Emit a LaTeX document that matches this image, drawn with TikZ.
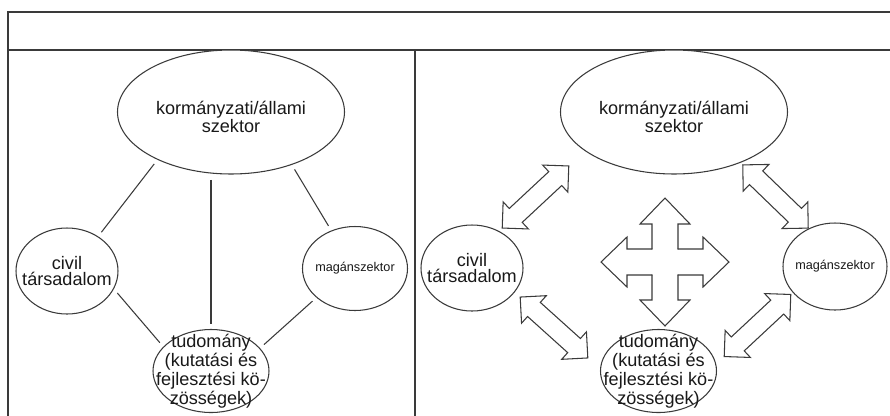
\documentclass[tikz,border=0pt]{standalone}
\usepackage{fontspec}
\setmainfont{Liberation Sans}
\usetikzlibrary{shapes.geometric}
\definecolor{ink}{HTML}{3A3A3A}
\tikzset{
    frame/.style={draw=ink, line width=0.7pt},
    sector/.style={ellipse, draw=ink, line width=0.6pt, fill=white, inner sep=0pt},
    bigsector/.style={sector, minimum width=4.54cm, minimum height=2.48cm},
    sidesector/.style={sector, minimum width=2.04cm, minimum height=1.72cm},
    scisector/.style={sector, minimum width=2.32cm, minimum height=1.66cm},
    lbl/.style={align=center, inner sep=0pt, text=black!90, font=\fontsize{10.3}{8}\selectfont},
    link/.style={draw=ink, line width=0.6pt, shorten <=3pt, shorten >=3pt},
    outline/.style={draw=ink, line width=0.6pt, fill=white, line join=miter},
    flow/.pic={
        \draw[outline] (-0.91,0) -- (-0.54,0.37) -- (-0.54,0.19) -- (0.54,0.19) -- (0.54,0.37)
            -- (0.91,0) -- (0.54,-0.37) -- (0.54,-0.19) -- (-0.54,-0.19) -- (-0.54,-0.37) -- cycle;
    },
}

\begin{document}
\begin{tikzpicture}
\clip (0,0) rectangle (17.8,-8.3);
\fill[white] (0,0) rectangle (17.8,-8.3);

% table frame
\draw[frame] (0.16,-8.5) -- (0.16,-0.24) -- (18,-0.24);
\draw[frame] (0.16,-1.0) -- (18,-1.0);
\draw[frame] (8.3,-1.0) -- (8.3,-8.5);

% left panel
\node[bigsector, label={[lbl, yshift=-0.1cm]center:kormányzati/állami\\szektor}] (gov1) at (4.62,-2.24) {};
\node[sidesector, label={[lbl, font=\fontsize{10.3}{9.6}\selectfont]center:civil\\társadalom}] (civ1) at (1.34,-5.42) {};
\node[sidesector, minimum width=2.1cm, minimum height=1.68cm, label={[lbl, font=\fontsize{7.2}{8}\selectfont]center:magánszektor}] (mag1) at (7.10,-5.37) {};
\node[scisector, label={[lbl]center:tudomány\\(kutatási és\\fejlesztési kö-\\zösségek)}] (tud1) at (4.22,-7.42) {};

\draw[link] (gov1.213) -- (civ1.48);
\draw[link] (gov1.319) -- (mag1.122);
\draw[link] (tud1.north |- gov1.south) -- (tud1.north);
\draw[link] (civ1.339) -- (tud1.153);
\draw[link] (mag1.217) -- (tud1.25);

% right panel
\node[bigsector, label={[lbl, yshift=-0.1cm]center:kormányzati/állami\\szektor}] (gov2) at (13.48,-2.24) {};
\node[sidesector, label={[lbl, font=\fontsize{10.3}{9.6}\selectfont]center:civil\\társadalom}] (civ2) at (9.44,-5.36) {};
\node[sidesector, minimum width=2.08cm, minimum height=1.74cm, label={[lbl, font=\fontsize{7.2}{8}\selectfont]center:magánszektor}] (mag2) at (16.70,-5.33) {};
\node[scisector, label={[lbl]center:tudomány\\(kutatási és\\fejlesztési kö-\\zösségek)}] (tud2) at (13.17,-7.42) {};

\pic[rotate=43] (govciv) at (10.71,-3.94) {flow};
\pic[rotate=-44] (govmag) at (15.51,-3.93) {flow};
\pic[rotate=-42] (civtud) at (11.08,-6.55) {flow};
\pic[rotate=43] (magtud) at (15.15,-6.51) {flow};

% four-way arrow in the middle
\coordinate (hub) at (13.30,-5.24);
\foreach \a in {0,90,180,270}
    \draw[ink, line width=0.6pt, line cap=round, shift={(hub)}, rotate=\a]
        (0.26,0.26) -- (0.76,0.26) -- (0.76,0.5) -- (1.28,0) -- (0.76,-0.5) -- (0.76,-0.26) -- (0.26,-0.26);
\end{tikzpicture}
\end{document}
